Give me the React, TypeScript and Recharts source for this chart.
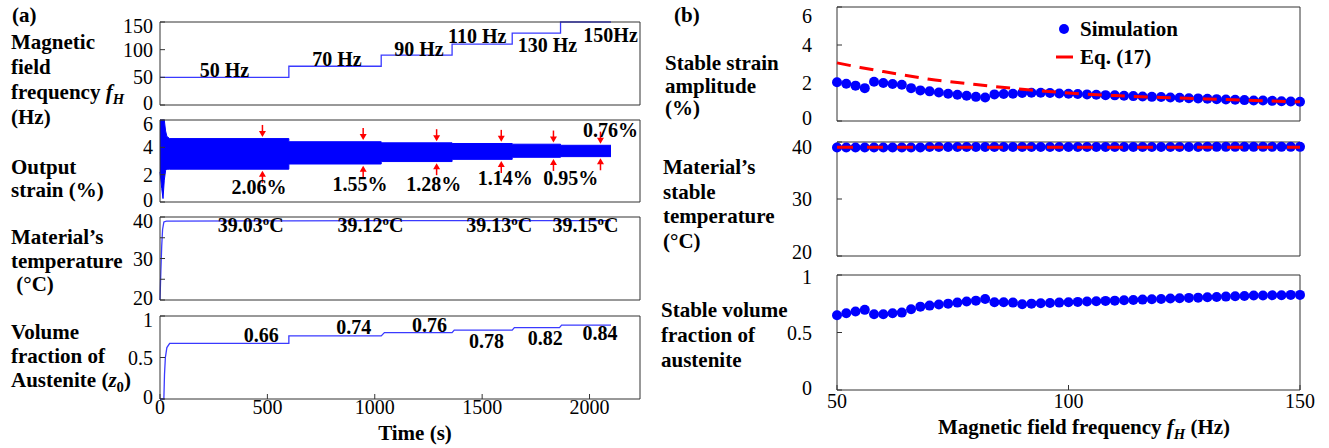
import React from 'react';
import { ComposedChart, Line, Area, XAxis, YAxis, ReferenceDot } from 'recharts';

const FONT = '"Liberation Serif", "DejaVu Serif", "Noto Serif", "Times New Roman", Times, serif';
const BLUE = '#0000ff';
const LINE_BLUE = '#3a3aff';
const RED = '#ff0000';
const FRAME = '#333333';

// ---- (a) time histories ----
const timeTicks = [0, 500, 1000, 1500, 2000];

const freqTime = [0, 600, 1030, 1360, 1640, 1865, 2100];
const freqVal = [50, 70, 90, 110, 130, 150, 150];
const freqNotes = [
  { t: 300, v: 63, text: '50 Hz' },
  { t: 824, v: 83, text: '70 Hz' },
  { t: 1206, v: 101, text: '90 Hz' },
  { t: 1477, v: 124, text: '110 Hz' },
  { t: 1804, v: 108, text: '130 Hz' },
  { t: 2098, v: 127, text: '150Hz' },
];

// envelope of the oscillating strain
const strainTime = [0, 8, 14, 20, 26, 32, 45, 600, 600, 1030, 1030, 1360, 1360, 1640, 1640, 1865, 1865, 2100];
const strainLow = [2.2, 1.0, 0.25, 1.6, 2.3, 2.4, 2.4, 2.4, 2.78, 2.78, 2.96, 2.96, 3.12, 3.12, 3.27, 3.27, 3.32, 3.32];
const strainHigh = [6.0, 6.0, 6.0, 6.0, 5.2, 4.8, 4.64, 4.64, 4.41, 4.41, 4.33, 4.33, 4.28, 4.28, 4.23, 4.23, 4.15, 4.15];
const arrowTime = [477, 946, 1288, 1589, 1832, 2051];
const arrowTop = [4.76, 4.53, 4.45, 4.4, 4.35, 4.27];
const arrowBottom = [2.28, 2.66, 2.84, 3.0, 3.15, 3.2];
const strainNotes = [
  { t: 461, v: 1.09, text: '2.06%' },
  { t: 931, v: 1.33, text: '1.55%' },
  { t: 1275, v: 1.33, text: '1.28%' },
  { t: 1608, v: 1.75, text: '1.14%' },
  { t: 1912, v: 1.75, text: '0.95%' },
  { t: 2098, v: 5.28, text: '0.76%' },
];

const tempTime = [0, 4, 8, 12, 18, 30, 600, 1030, 1360, 1640, 1865, 2100];
const tempVal = [20, 27, 33, 37, 38.8, 39.03, 39.05, 39.12, 39.13, 39.14, 39.15, 39.15];
const tempNotes = [
  { t: 422, v: 38.1, text: '39.03' },
  { t: 980, v: 38.1, text: '39.12' },
  { t: 1579, v: 38.1, text: '39.13' },
  { t: 1981, v: 38.1, text: '39.15' },
];

const volTime = [0, 18, 21, 25, 32, 45, 600, 600, 1030, 1045, 1360, 1370, 1640, 1650, 1860, 1870, 2100];
const volVal = [0, 0, 0.3, 0.5, 0.62, 0.67, 0.67, 0.76, 0.76, 0.8, 0.8, 0.83, 0.83, 0.86, 0.86, 0.89, 0.89];
const volNotes = [
  { t: 471, v: 0.77, text: '0.66' },
  { t: 902, v: 0.87, text: '0.74' },
  { t: 1255, v: 0.89, text: '0.76' },
  { t: 1520, v: 0.7, text: '0.78' },
  { t: 1794, v: 0.74, text: '0.82' },
  { t: 2049, v: 0.79, text: '0.84' },
];

// ---- (b) stable values vs frequency ----
const simFreq = [50, 52, 54, 56, 58, 60, 62, 64, 66, 68, 70, 72, 74, 76, 78, 80, 82, 84, 86, 88, 90, 92, 94, 96, 98, 100,
  102, 104, 106, 108, 110, 112, 114, 116, 118, 120, 122, 124, 126, 128, 130, 132, 134, 136, 138, 140, 142, 144, 146, 148, 150];
const simStrain = [2.04, 1.96, 1.86, 1.73, 2.07, 2.0, 1.95, 1.91, 1.73, 1.61, 1.56, 1.5, 1.43, 1.38, 1.33, 1.27, 1.24, 1.4,
  1.42, 1.43, 1.47, 1.49, 1.49, 1.47, 1.45, 1.43, 1.42, 1.4, 1.38, 1.36, 1.35, 1.33, 1.31, 1.29, 1.27, 1.26, 1.24, 1.22,
  1.2, 1.19, 1.17, 1.15, 1.13, 1.12, 1.1, 1.08, 1.08, 1.06, 1.04, 1.03, 1.01];
const simTemp = [39.03, 39.03, 39.03, 39.03, 39.03, 39.03, 39.03, 39.03, 39.03, 39.03, 39.12, 39.12, 39.12, 39.12, 39.12,
  39.12, 39.12, 39.12, 39.12, 39.12, 39.12, 39.12, 39.12, 39.12, 39.12, 39.12, 39.12, 39.12, 39.12, 39.12, 39.13, 39.13,
  39.13, 39.13, 39.13, 39.13, 39.13, 39.13, 39.13, 39.13, 39.15, 39.15, 39.15, 39.15, 39.15, 39.15, 39.15, 39.15, 39.15,
  39.15, 39.15];
const simVol = [0.65, 0.668, 0.682, 0.697, 0.659, 0.659, 0.668, 0.673, 0.702, 0.725, 0.734, 0.743, 0.751, 0.76, 0.769,
  0.777, 0.792, 0.763, 0.763, 0.76, 0.746, 0.751, 0.754, 0.757, 0.76, 0.763, 0.766, 0.769, 0.772, 0.775, 0.777, 0.78,
  0.783, 0.786, 0.789, 0.792, 0.795, 0.798, 0.801, 0.803, 0.806, 0.809, 0.812, 0.815, 0.818, 0.821, 0.821, 0.824, 0.824,
  0.827, 0.827];
const eqFreq = [50, 55, 60, 65, 70, 75, 80, 85, 90, 95, 100, 110, 120, 130, 140, 150];
const eqStrain = [3.06, 2.82, 2.6, 2.4, 2.2, 2.05, 1.92, 1.79, 1.67, 1.57, 1.47, 1.34, 1.24, 1.16, 1.08, 1.01];
const eqTemp = [39.1, 39.1, 39.1, 39.1, 39.1, 39.1, 39.1, 39.1, 39.1, 39.1, 39.1, 39.1, 39.1, 39.1, 39.1, 39.1];

const freqData = freqTime.map((t, i) => ({ t, v: freqVal[i] }));
const strainData = strainTime.map((t, i) => ({ t, band: [strainLow[i], strainHigh[i]] }));
const tempData = tempTime.map((t, i) => ({ t, v: tempVal[i] }));
const volData = volTime.map((t, i) => ({ t, v: volVal[i] }));
const simData = simFreq.map((f, i) => ({ f, strain: simStrain[i], temp: simTemp[i], vol: simVol[i] }));
const eqData = eqFreq.map((f, i) => ({ f, strain: eqStrain[i], temp: eqTemp[i] }));

// ---- layout helpers ----
type Box = { x: number; y: number; w: number; h: number };
const YL = 70;
const YR = 30;
const XT = 20;
const XB = 40;

const tickText = { fill: '#000', fontSize: 20, fontFamily: FONT };
const boldText: React.CSSProperties = { fontFamily: FONT, fontSize: 20, fontWeight: 'bold', fill: '#000' };

interface AxisOpts {
  xKey: string;
  xDomain: [number, number];
  xTicks: number[];
  yDomain: [number, number];
  yTicks: number[];
  xLabels?: boolean;
  xMargin: number;
  yMargin: number;
  yFormat?: (v: number) => string;
  topShift?: number;
  bottomShift?: number;
  ghost?: boolean;
}

// y tick labels: end labels nudged inward a little, as in the figure
const yTickRenderer = (o: AxisOpts) => (p: any) => {
  const v = p.payload.value;
  let dy = 0;
  if (v === o.yDomain[1]) dy = o.topShift ?? 0;
  if (v === o.yDomain[0]) dy = -(o.bottomShift ?? 0);
  const label = o.yFormat ? o.yFormat(v) : String(v);
  return (
    <text x={p.x} y={p.y + dy} dy="0.355em" textAnchor="end" style={tickText}>
      {label}
    </text>
  );
};

function frameAxes(o: AxisOpts) {
  const show = !o.ghost;
  return [
    <XAxis key="xb" xAxisId="b" dataKey={o.xKey} type="number" domain={o.xDomain} ticks={o.xTicks} height={XB}
      stroke={FRAME} axisLine={show} tickLine={show} tickSize={-5} tickMargin={o.xMargin}
      tick={o.xLabels && show ? tickText : false} interval={0} />,
    <XAxis key="xt" xAxisId="t" orientation="top" dataKey={o.xKey} type="number" domain={o.xDomain} ticks={o.xTicks}
      height={XT} stroke={FRAME} axisLine={show} tickLine={show} tickSize={-5} tick={false} allowDataOverflow interval={0} />,
    <YAxis key="yl" yAxisId="l" type="number" domain={o.yDomain} ticks={o.yTicks} width={YL} stroke={FRAME}
      axisLine={show} tickLine={show} tickSize={-5} tickMargin={o.yMargin} tick={show ? yTickRenderer(o) : false}
      interval={0} />,
    <YAxis key="yr" yAxisId="r" orientation="right" type="number" domain={o.yDomain} ticks={o.yTicks} width={YR}
      stroke={FRAME} axisLine={show} tickLine={show} tickSize={-5} tick={false} allowDataOverflow interval={0} />,
  ];
}

function note(key: string, x: number, y: number, content: React.ReactNode) {
  return (
    <ReferenceDot key={key} xAxisId="b" yAxisId="l" x={x} y={y} r={0} fill="none" stroke="none"
      label={(p: any) => {
        const vb = p.viewBox;
        return (
          <text x={vb.x + vb.width / 2} y={vb.y + vb.height / 2} dy="0.35em" textAnchor="middle" style={boldText}>
            {content}
          </text>
        );
      }} />
  );
}

function arrow(key: string, x: number, y: number, down: boolean) {
  return (
    <ReferenceDot key={key} xAxisId="b" yAxisId="l" x={x} y={y} r={0}
      shape={(p: any) => {
        const s = down ? -1 : 1;
        const { cx, cy } = p;
        return (
          <g>
            <line x1={cx} y1={cy + s * 12} x2={cx} y2={cy + s * 5} stroke={RED} strokeWidth={1.5} />
            <path d={`M${cx - 3.5},${cy + s * 6} L${cx + 3.5},${cy + s * 6} L${cx},${cy} Z`} fill={RED} />
          </g>
        );
      }} />
  );
}

function Sub({ box, children }: { box: Box; children: React.ReactNode }) {
  return (
    <div style={{ position: 'absolute', left: box.x - YL, top: box.y - XT }}>
      <ComposedChart width={YL + box.w + YR} height={XT + box.h + XB} margin={{ top: 0, right: 0, bottom: 0, left: 0 }}>
        {children}
      </ComposedChart>
    </div>
  );
}

function SideText({ x, y, lh, lines }: { x: number; y: number; lh: number; lines: React.ReactNode[] }) {
  return (
    <div style={{ position: 'absolute', left: x, top: y, lineHeight: `${lh}px`, fontFamily: FONT, fontSize: 21,
      fontWeight: 'bold', whiteSpace: 'pre', color: '#000' }}>
      {lines.map((l, i) => <div key={i}>{l}</div>)}
    </div>
  );
}

function Title({ cx, cy, children }: { cx: number; cy: number; children: React.ReactNode }) {
  return (
    <div style={{ position: 'absolute', left: cx, top: cy, transform: 'translate(-50%, -50%)', fontFamily: FONT,
      fontSize: 21, fontWeight: 'bold', whiteSpace: 'nowrap', color: '#000', lineHeight: '22px' }}>
      {children}
    </div>
  );
}

const fH = (
  <>
    <i>f</i>
    <sub style={{ fontSize: '0.7em', fontStyle: 'italic', lineHeight: 0 }}>H</sub>
  </>
);

const A1: Box = { x: 160, y: 22, w: 480, h: 83 };
const A2: Box = { x: 160, y: 120, w: 480, h: 82 };
const A3: Box = { x: 160, y: 217, w: 480, h: 83 };
const A4: Box = { x: 160, y: 316, w: 480, h: 83 };
const B1: Box = { x: 837, y: 7, w: 463, h: 114 };
const B2: Box = { x: 837, y: 142, w: 463, h: 114 };
const B3: Box = { x: 837, y: 275, w: 463, h: 115 };

const timeAxis = { xKey: 't', xDomain: [0, 2235] as [number, number], xTicks: timeTicks, xMargin: 6, yMargin: 12,
  topShift: 4, bottomShift: 2 };
const freqAxis = { xKey: 'f', xDomain: [50, 150] as [number, number], xTicks: [50, 100, 150], xMargin: 9, yMargin: 30 };

export default function App() {
  return (
    <div style={{ position: 'absolute', left: 0, top: 0, width: 1329, height: 448, background: '#fff', overflow: 'hidden' }}>
      {/* ---------- (a) ---------- */}
      <Sub box={A1}>
        {frameAxes({ ...timeAxis, yDomain: [0, 150], yTicks: [0, 50, 100, 150] })}
        <Line data={freqData} dataKey="v" xAxisId="b" yAxisId="l" type="stepAfter" stroke={LINE_BLUE} strokeWidth={1.3}
          dot={false} isAnimationActive={false} />
        {freqNotes.map((n, i) => note(`fn${i}`, n.t, n.v, n.text))}
      </Sub>
      <Sub box={A2}>
        {frameAxes({ ...timeAxis, yDomain: [0, 6], yTicks: [0, 2, 4, 6] })}
        <Area data={strainData} dataKey="band" xAxisId="b" yAxisId="l" type="linear" stroke={BLUE} strokeWidth={1}
          fill={BLUE} fillOpacity={1} isAnimationActive={false} />
        {arrowTime.map((t, i) => arrow(`at${i}`, t, arrowTop[i], true))}
        {arrowTime.map((t, i) => arrow(`ab${i}`, t, arrowBottom[i], false))}
        {strainNotes.map((n, i) => note(`sn${i}`, n.t, n.v, n.text))}
      </Sub>
      <Sub box={A3}>
        {frameAxes({ ...timeAxis, yDomain: [20, 40], yTicks: [20, 25, 30, 35, 40],
          yFormat: (v: number) => (v % 10 === 0 ? String(v) : '') })}
        <Line data={tempData} dataKey="v" xAxisId="b" yAxisId="l" type="linear" stroke={LINE_BLUE} strokeWidth={1.3}
          dot={false} isAnimationActive={false} />
        {tempNotes.map((n, i) =>
          note(`tn${i}`, n.t, n.v, (
            <>
              {n.text}
              <tspan dy={-7} fontSize={13}>o</tspan>
              <tspan dy={7}>C</tspan>
            </>
          )))}
      </Sub>
      <Sub box={A4}>
        {frameAxes({ ...timeAxis, xLabels: true, yDomain: [0, 1], yTicks: [0, 0.5, 1] })}
        <Line data={volData} dataKey="v" xAxisId="b" yAxisId="l" type="linear" stroke={LINE_BLUE} strokeWidth={1.3}
          dot={false} isAnimationActive={false} />
        {volNotes.map((n, i) => note(`vn${i}`, n.t, n.v, n.text))}
      </Sub>

      <SideText x={12} y={3} lh={24} lines={['(a)']} />
      <SideText x={11} y={29.5} lh={25} lines={['Magnetic', 'field', <>frequency {fH}</>, '(Hz)']} />
      <SideText x={11} y={155.5} lh={23} lines={['Output', 'strain (%)']} />
      <SideText x={11} y={226} lh={23.5} lines={['Material\u2019s', 'temperature', ' (\u00b0C)']} />
      <SideText x={11} y={320} lh={24} lines={['Volume', 'fraction of',
        <>Austenite (<i>z</i><sub style={{ fontSize: '0.7em', lineHeight: 0 }}>0</sub>)</>]} />
      <Title cx={415} cy={433}>Time (s)</Title>

      {/* ---------- (b) ---------- */}
      <Sub box={B1}>
        {frameAxes({ ...freqAxis, yDomain: [0, 6], yTicks: [0, 2, 4, 6], topShift: 9, bottomShift: 3 })}
        <Line data={simData} dataKey="strain" name="Simulation" xAxisId="b" yAxisId="l" stroke="none"
          dot={{ r: 5, fill: BLUE, stroke: 'none' }} activeDot={false} isAnimationActive={false} />
      </Sub>
      <Sub box={B1}>
        {frameAxes({ ...freqAxis, ghost: true, yDomain: [0, 6], yTicks: [0, 2, 4, 6] })}
        <Line data={eqData} dataKey="strain" name="Eq. (17)" xAxisId="b" yAxisId="l" type="monotone" stroke={RED}
          strokeWidth={3} strokeDasharray="14 9" dot={false} activeDot={false} isAnimationActive={false} />
      </Sub>
      <Sub box={B2}>
        {frameAxes({ ...freqAxis, yDomain: [20, 40], yTicks: [20, 30, 40], topShift: 5, bottomShift: 4 })}
        <Line data={simData} dataKey="temp" name="Simulation" xAxisId="b" yAxisId="l" stroke="none"
          dot={{ r: 5, fill: BLUE, stroke: 'none' }} activeDot={false} isAnimationActive={false} />
      </Sub>
      <Sub box={B2}>
        {frameAxes({ ...freqAxis, ghost: true, yDomain: [20, 40], yTicks: [20, 30, 40] })}
        <Line data={eqData} dataKey="temp" name="Eq. (17)" xAxisId="b" yAxisId="l" type="linear" stroke={RED}
          strokeWidth={3} strokeDasharray="16 14" dot={false} activeDot={false} isAnimationActive={false} />
      </Sub>
      <Sub box={B3}>
        {frameAxes({ ...freqAxis, xLabels: true, yDomain: [0, 1], yTicks: [0, 0.5, 1], topShift: 2, bottomShift: 2 })}
        <Line data={simData} dataKey="vol" name="Simulation" xAxisId="b" yAxisId="l" stroke="none"
          dot={{ r: 5, fill: BLUE, stroke: 'none' }} activeDot={false} isAnimationActive={false} />
      </Sub>

      {/* legend */}
      <div style={{ position: 'absolute', left: 1054, top: 15, fontFamily: FONT, fontSize: 21, fontWeight: 'bold',
        lineHeight: '28px', color: '#000' }}>
        <div style={{ display: 'flex', alignItems: 'center' }}>
          <svg width={22} height={12}><circle cx={10} cy={6} r={5} fill={BLUE} /></svg>
          <span style={{ marginLeft: 4 }}>Simulation</span>
        </div>
        <div style={{ display: 'flex', alignItems: 'center' }}>
          <svg width={22} height={12}><line x1={2} y1={6} x2={19} y2={6} stroke={RED} strokeWidth={3} /></svg>
          <span style={{ marginLeft: 4 }}>Eq. (17)</span>
        </div>
      </div>

      <SideText x={674} y={3} lh={24} lines={['(b)']} />
      <SideText x={665} y={52} lh={22.5} lines={['Stable strain', 'amplitude', '(%)']} />
      <SideText x={663} y={155} lh={24.5} lines={['Material\u2019s', 'stable', 'temperature', '(\u00b0C)']} />
      <SideText x={661} y={297.5} lh={25} lines={['Stable volume', 'fraction of', 'austenite']} />
      <Title cx={1084} cy={427}>Magnetic field frequency {fH} (Hz)</Title>
    </div>
  );
}
